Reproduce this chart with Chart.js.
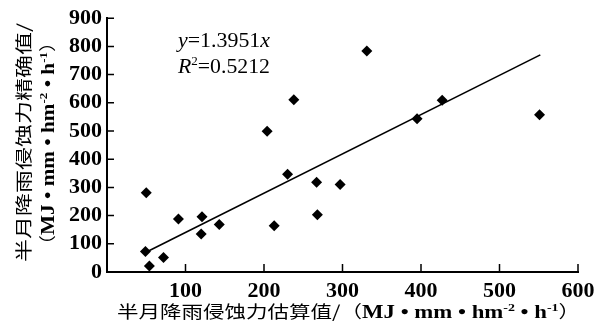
<!DOCTYPE html>
<html lang="zh">
<head>
  <meta charset="UTF-8">
  <title>半月降雨侵蚀力估算值与精确值</title>
  <script src="https://cdn.jsdelivr.net/npm/chart.js"></script>
  <style>
    body { margin: 0; background: #fff; }
    #wrap { width: 613px; height: 328px; }
  </style>
</head>
<body>
  <div id="wrap"><canvas id="erosChart"></canvas></div>

  <script>
    // valeurs
    const estX = [50, 49, 54, 72, 91, 121, 120, 143, 213, 230, 267, 268, 297, 204, 238, 331, 427, 395, 551];
    const obsY = [281, 73, 21, 51, 188, 196, 135, 168, 164, 347, 318, 203, 310, 499, 611, 784, 609, 543, 558];
    // droite y = 1.3951x, extrémités
    const trendX = [49, 552];
    const trendY = [69, 770];
    const xTickVals = [100, 200, 300, 400, 500, 600];
    const yTickVals = [0, 100, 200, 300, 400, 500, 600, 700, 800, 900];

    const cjk = '17px "Noto Sans CJK SC"';
    const lat = 'bold 18px "Liberation Serif"';
    const sup = 'bold 11px "Liberation Serif"';

    // texte composé (segments de polices différentes), étiré à la largeur voulue
    function rich(ctx, segs, x, y, width, rot, left) {
      ctx.save();
      ctx.translate(x, y);
      if (rot) ctx.rotate(rot);
      let w = 0;
      segs.forEach(s => { ctx.font = s.f; w += ctx.measureText(s.t).width; });
      ctx.scale(width / w, 1);
      let xx = left ? 0 : -w / 2;
      ctx.fillStyle = '#000';
      ctx.textBaseline = 'alphabetic';
      segs.forEach(s => {
        ctx.font = s.f;
        ctx.fillText(s.t, xx, s.dy || 0);
        xx += ctx.measureText(s.t).width;
      });
      ctx.restore();
    }

    const unitSegs = [
      { t: '（', f: cjk },
      { t: 'MJ • mm • hm', f: lat },
      { t: '-2', f: sup, dy: -7 },
      { t: ' • h', f: lat },
      { t: '-1', f: sup, dy: -7 },
      { t: '）', f: cjk }
    ];

    const deco = {
      id: 'deco',
      afterDraw(chart) {
        const { ctx, chartArea: a, scales: { x, y } } = chart;
        ctx.save();
        ctx.strokeStyle = '#000';
        ctx.lineWidth = 1.5;
        ctx.beginPath();
        xTickVals.forEach(v => {
          const px = x.getPixelForValue(v);
          ctx.moveTo(px, a.bottom);
          ctx.lineTo(px, a.bottom - 8);
        });
        yTickVals.forEach(v => {
          if (v === 0) return;
          const py = y.getPixelForValue(v);
          ctx.moveTo(a.left, py);
          ctx.lineTo(a.left + 7, py);
        });
        ctx.stroke();
        ctx.restore();

        // titres des axes
        rich(ctx, [{ t: '半月降雨侵蚀力估算值/', f: cjk }].concat(unitSegs), 348.5, 318, 463);
        rich(ctx, [{ t: '半月降雨侵蚀力精确值/', f: cjk }], 30, 142.5, 239, -Math.PI / 2);
        rich(ctx, unitSegs, 54, 143.5, 223, -Math.PI / 2);

        // équation
        const f = '20px "Liberation Serif"';
        const fi = 'italic 20px "Liberation Serif"';
        rich(ctx, [{ t: 'y', f: fi }, { t: '=1.3951', f: f }, { t: 'x', f: fi }], 178, 47, 92, 0, true);
        rich(ctx, [{ t: 'R', f: fi }, { t: '2', f: '12px "Liberation Serif"', dy: -8 }, { t: '=0.5212', f: f }], 178, 73, 92, 0, true);
      }
    };

    const ctx = document.getElementById('erosChart').getContext('2d');
    new Chart(ctx, {
      type: 'scatter',
      data: {
        datasets: [{
          data: estX.map((v, i) => ({ x: v, y: obsY[i] })),
          pointStyle: 'rectRot',
          pointRadius: 5.5,
          backgroundColor: '#000',
          borderColor: '#000',
          borderWidth: 0
        }, {
          type: 'line',
          data: trendX.map((v, i) => ({ x: v, y: trendY[i] })),
          borderColor: '#000',
          borderWidth: 1.6,
          pointRadius: 0,
          fill: false
        }]
      },
      options: {
        responsive: true,
        maintainAspectRatio: false,
        animation: false,
        layout: { padding: { left: 0, top: 14, right: 35, bottom: 0 } },
        plugins: { legend: { display: false }, tooltip: { enabled: false } },
        scales: {
          x: {
            type: 'linear',
            min: 0,
            max: 600,
            afterBuildTicks: s => { s.ticks = xTickVals.map(v => ({ value: v })); },
            afterFit: s => { s.height = 56; },
            grid: { display: false, drawTicks: false },
            border: { color: '#000', width: 2 },
            ticks: {
              color: '#000',
              padding: 6,
              maxRotation: 0,
              autoSkip: false,
              font: { family: '"Liberation Serif"', size: 22, weight: 'bold' }
            }
          },
          y: {
            min: 0,
            max: 900,
            afterBuildTicks: s => { s.ticks = yTickVals.map(v => ({ value: v })); },
            afterFit: s => { s.width = 107; },
            grid: { display: false, drawTicks: false },
            border: { color: '#000', width: 2 },
            ticks: {
              color: '#000',
              padding: 5,
              autoSkip: false,
              font: { family: '"Liberation Serif"', size: 22, weight: 'bold' }
            }
          }
        }
      },
      plugins: [deco]
    });
  </script>
</body>
</html>
